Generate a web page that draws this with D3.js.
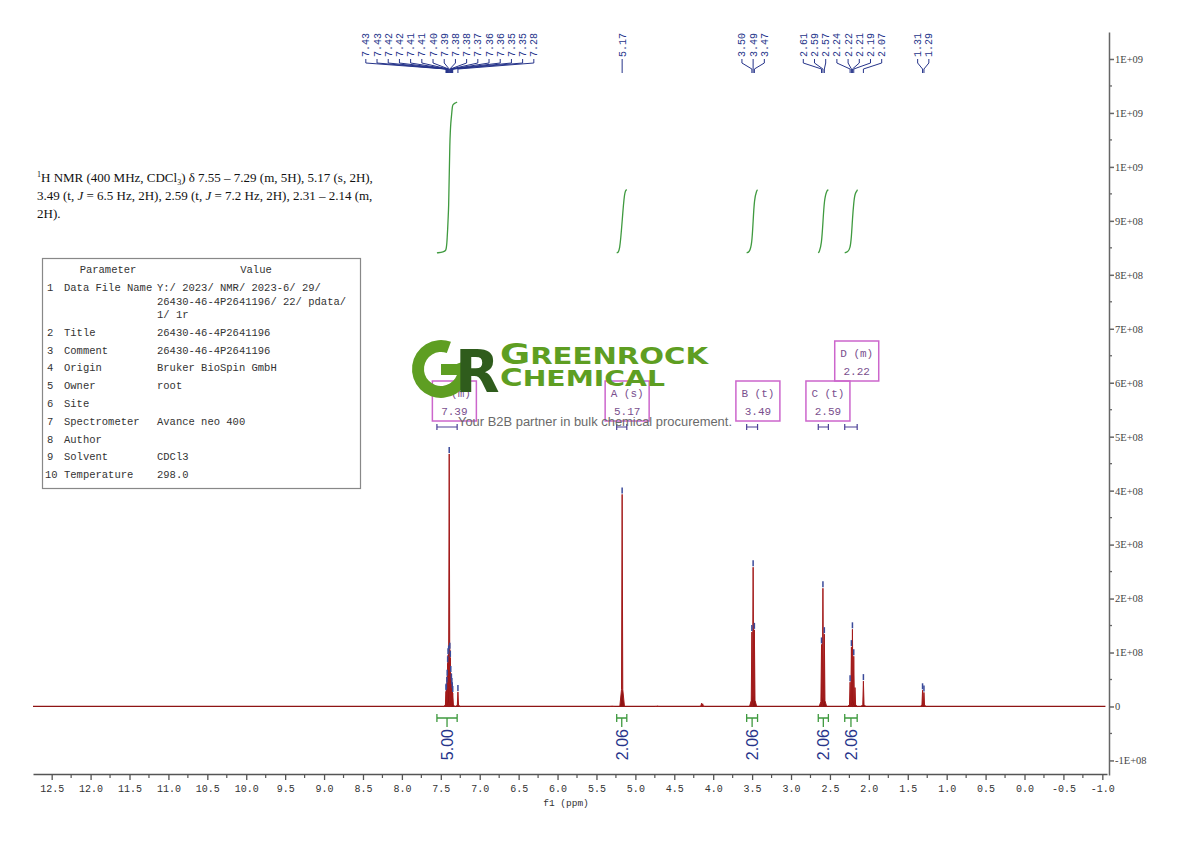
<!DOCTYPE html>
<html>
<head>
<meta charset="utf-8">
<script src="https://cdn.jsdelivr.net/npm/d3@7/dist/d3.min.js"></script>
<style>
  body { margin: 0; background: #fff; }
</style>
</head>
<body>
<svg id="chart" width="1190" height="841"></svg>
<script>
// spectrum peaks (ppm, intensity in units of 1e8)
var specPpm = [7.433, 7.428, 7.422, 7.418, 7.412, 7.407, 7.399, 7.392, 7.384, 7.378, 7.372, 7.364, 7.358, 7.353, 7.347, 7.280,
               5.300, 5.170, 4.720, 4.150, 4.135,
               3.503, 3.487, 3.471,
               2.608, 2.590, 2.572,
               2.241, 2.224, 2.211, 2.194, 2.178, 2.070,
               1.310, 1.292];
var specInt = [0.28, 0.30, 0.42, 0.55, 0.80, 0.95, 1.00, 4.68, 1.05, 0.90, 0.62, 0.48, 0.40, 0.32, 0.25, 0.27,
               0.01, 3.93, 0.01, 0.06, 0.05,
               1.38, 2.58, 1.42,
               1.15, 2.19, 1.34,
               0.45, 1.10, 1.43, 0.93, 0.35, 0.47,
               0.30, 0.26];

// picked peaks shown at the top
var pickPpm = [7.433, 7.428, 7.422, 7.418, 7.412, 7.407, 7.399, 7.392, 7.384, 7.378, 7.372, 7.364, 7.358, 7.353, 7.347, 7.280,
               5.170, 3.503, 3.487, 3.471, 2.608, 2.590, 2.572, 2.241, 2.224, 2.211, 2.194, 2.070, 1.310, 1.292];

// integrals
var intFrom = [7.55, 5.24, 3.57, 2.65, 2.31];
var intTo   = [7.29, 5.11, 3.43, 2.52, 2.15];
var intVal  = [5.00, 2.06, 2.06, 2.06, 2.06];

// multiplets
var mName  = ["E", "A", "B", "C", "D"];
var mType  = ["m", "s", "t", "t", "m"];
var mShift = [7.39, 5.17, 3.49, 2.59, 2.22];

// axis ticks
var xTicks = [12.5, 12.0, 11.5, 11.0, 10.5, 10.0, 9.5, 9.0, 8.5, 8.0, 7.5, 7.0, 6.5, 6.0, 5.5, 5.0,
              4.5, 4.0, 3.5, 3.0, 2.5, 2.0, 1.5, 1.0, 0.5, 0.0, -0.5, -1.0];
var yTicks = [-1e8, 0, 1e8, 2e8, 3e8, 4e8, 5e8, 6e8, 7e8, 8e8, 9e8, 1.0e9, 1.1e9, 1.2e9];

var nmrLines = [
  "H NMR (400 MHz, CDCl", ") \u03b4 7.55 \u2013 7.29 (m, 5H), 5.17 (s, 2H),",
  "3.49 (t, ", " = 6.5 Hz, 2H), 2.59 (t, ", " = 7.2 Hz, 2H), 2.31 \u2013 2.14 (m,",
  "2H)."
];
var paramNames  = ["Data File Name", "Title", "Comment", "Origin", "Owner", "Site", "Spectrometer", "Author", "Solvent", "Temperature"];
var paramValues = [["Y:/ 2023/ NMR/ 2023-6/ 29/", "26430-46-4P2641196/ 22/ pdata/", "1/ 1r"],
                   ["26430-46-4P2641196"], ["26430-46-4P2641196"], ["Bruker BioSpin GmbH"], ["root"], [""],
                   ["Avance neo 400"], [""], ["CDCl3"], ["298.0"]];

var navy = "#26348a", red = "#8e1414", green = "#3f9a3f", magenta = "#cc66cc";
var mono = "'Liberation Mono', monospace";

var svg = d3.select("#chart");
svg.append("rect").attr("width", 1190).attr("height", 841).attr("fill", "#fff");

var x = d3.scaleLinear().domain([12.74, -1.06]).range([33, 1107]);
var y = d3.scaleLinear().domain([-1.27e8, 1.25e9]).range([775, 32]);
var yInt = d3.scaleLinear().domain([0, 5]).range([252, 103]);

// ---- axes
function sci(v) {
  if (v === 0) return "0";
  var e = Math.floor(Math.log10(Math.abs(v)) + 1e-9);
  var m = Math.round(v / Math.pow(10, e));
  return m + "E+" + (e < 10 ? "0" : "") + e;
}

var gx = svg.append("g").attr("transform", "translate(0,774)")
  .call(d3.axisBottom(x).tickValues(xTicks).tickSize(6).tickSizeOuter(0)
    .tickFormat(function(d) { return d.toFixed(1); }));
gx.selectAll("text").attr("font-family", mono).attr("font-size", 10).attr("fill", "#333").attr("dy", "0.9em");
gx.selectAll("line, path").attr("stroke", "#555").attr("stroke-width", 1.3);
gx.selectAll(".minor").data(xTicks.map(function(d) { return d - 0.25; }).filter(function(d) { return d > -1.06; }))
  .enter().append("line").attr("class", "minor")
  .attr("x1", function(d) { return x(d); }).attr("x2", function(d) { return x(d); })
  .attr("y1", 0).attr("y2", 4).attr("stroke", "#555").attr("stroke-width", 1.2);
svg.append("text").attr("x", 566).attr("y", 806).attr("text-anchor", "middle")
  .attr("font-family", mono).attr("font-size", 9.5).attr("fill", "#333").text("f1 (ppm)");

var gy = svg.append("g").attr("transform", "translate(1109,0)")
  .call(d3.axisRight(y).tickValues(yTicks).tickSize(5).tickSizeOuter(0).tickFormat(sci));
gy.attr("font-family", "'Liberation Serif', serif");
gy.selectAll("text").attr("font-family", "'Liberation Serif', serif").attr("font-size", 10.5).attr("fill", "#444").attr("x", 6);
gy.selectAll("line, path").attr("stroke", "#666").attr("stroke-width", 1.5);
gy.selectAll(".minor").data(yTicks.map(function(d) { return d + 0.5e8; }).filter(function(d) { return d < 1.25e9; }))
  .enter().append("line").attr("class", "minor")
  .attr("y1", function(d) { return y(d); }).attr("y2", function(d) { return y(d); })
  .attr("x1", 0).attr("x2", 3).attr("stroke", "#666").attr("stroke-width", 1.3);

// ---- spectrum
var peaks = specPpm.map(function(p, i) { return {ppm: p, h: specInt[i] * 1e8}; });
svg.append("line")
  .attr("x1", x(12.74)).attr("x2", x(-1.04)).attr("y1", y(0)).attr("y2", y(0))
  .attr("stroke", red).attr("stroke-width", 1.2);
var peakLine = d3.line().x(function(d) { return x(d[0]); }).y(function(d) { return y(d[1]); });
svg.append("g").selectAll("path").data(peaks).enter().append("path")
  .attr("d", function(d) {
    return peakLine([[d.ppm + 0.03, 0], [d.ppm + 0.008, d.h * 0.08], [d.ppm, d.h],
                     [d.ppm - 0.008, d.h * 0.08], [d.ppm - 0.03, 0]]);
  })
  .attr("fill", red).attr("stroke", "#a31a1a").attr("stroke-width", 1);

// peak pick markers
var picks = pickPpm.map(function(p) {
  var pk = peaks.filter(function(d) { return d.ppm === p; })[0];
  return {ppm: p, h: pk.h, px: x(p)};
});
svg.append("g").selectAll("line").data(picks).enter().append("line")
  .attr("x1", function(d) { return d.px; }).attr("x2", function(d) { return d.px; })
  .attr("y1", function(d) { return y(d.h) - 7; }).attr("y2", function(d) { return y(d.h) - 1; })
  .attr("stroke", "#3a4a9a").attr("stroke-width", 1.5);

// ---- peak labels at top
var gap = 11.2;
var sorted = picks.slice().sort(function(a, b) { return a.px - b.px; });
var clusters = sorted.map(function(l) { return {items: [l], center: l.px}; });
var merged = true;
while (merged) {
  merged = false;
  for (var i = 0; i < clusters.length - 1; i++) {
    var a = clusters[i], b = clusters[i + 1];
    var aRight = a.center + (a.items.length - 1) * gap / 2;
    var bLeft = b.center - (b.items.length - 1) * gap / 2;
    if (bLeft - aRight < gap) {
      var items = a.items.concat(b.items);
      clusters.splice(i, 2, {items: items, center: d3.mean(items, function(d) { return d.px; })});
      merged = true;
      break;
    }
  }
}
clusters.forEach(function(c) {
  c.items.forEach(function(l, k) { l.lx = c.center + (k - (c.items.length - 1) / 2) * gap; });
});

var gl = svg.append("g");
gl.selectAll("text").data(sorted).enter().append("text")
  .attr("transform", function(d) { return "translate(" + d.lx + ",57) rotate(-90)"; })
  .attr("dy", "0.35em").attr("font-family", mono).attr("font-size", 10).attr("fill", navy)
  .text(function(d) { return d.ppm.toFixed(2); });
gl.selectAll("path").data(sorted).enter().append("path")
  .attr("d", function(d) {
    return "M" + d.lx + ",59V63L" + d.px + ",69V73";
  })
  .attr("fill", "none").attr("stroke", navy).attr("stroke-width", 1);

// ---- integrals
var ints = intFrom.map(function(f, i) { return {from: f, to: intTo[i], val: intVal[i]}; });
var curve = d3.line().x(function(d) { return x(d[0]); }).y(function(d) { return yInt(d[1]); }).curve(d3.curveBasis);
svg.append("g").selectAll("path").data(ints).enter().append("path")
  .attr("d", function(d) {
    var inside = peaks.filter(function(p) { return p.ppm <= d.from && p.ppm >= d.to; });
    var total = d3.sum(inside, function(p) { return p.h; });
    var pts = [[d.from, -0.03], [inside[0].ppm + 0.03, 0]];
    var cum = 0;
    inside.forEach(function(p) {
      pts.push([p.ppm, (cum + p.h / 2) / total * d.val]);
      cum += p.h;
    });
    pts.push([inside[inside.length - 1].ppm - 0.03, d.val]);
    pts.push([d.to, d.val + 0.03]);
    return curve(pts);
  })
  .attr("fill", "none").attr("stroke", green).attr("stroke-width", 1.3);

var gi = svg.append("g").selectAll("g").data(ints).enter().append("g");
gi.append("path")
  .attr("d", function(d) {
    var x1 = x(d.from), x2 = x(d.to), xm = (x1 + x2) / 2;
    return "M" + x1 + ",714V722M" + x1 + ",718H" + x2 + "M" + x2 + ",714V722M" + xm + ",718V727";
  })
  .attr("fill", "none").attr("stroke", green).attr("stroke-width", 1.3);
gi.append("text")
  .attr("transform", function(d) { return "translate(" + ((x(d.from) + x(d.to)) / 2) + ",729) rotate(-90)"; })
  .attr("dy", "0.36em").attr("text-anchor", "end")
  .attr("font-family", "'Liberation Sans', Arial, sans-serif").attr("font-size", 16).attr("fill", navy)
  .text(function(d) { return d3.format(".2f")(d.val); });

// ---- multiplet boxes
var mult = mName.map(function(n, i) {
  return {name: n, type: mType[i], shift: mShift[i], from: intFrom[i], to: intTo[i], cx: x(mShift[i])};
}).sort(function(a, b) { return a.cx - b.cx; });
var placed = [];
mult.forEach(function(m) {
  m.left = m.cx - 17;
  m.level = 0;
  while (placed.some(function(p) { return p.level === m.level && p.left + 44 > m.left; })) m.level++;
  placed.push(m);
});
var gm = svg.append("g").selectAll("g").data(mult).enter().append("g");
gm.append("rect")
  .attr("x", function(d) { return d.left; }).attr("y", function(d) { return 381 - d.level * 40; })
  .attr("width", 44).attr("height", 40)
  .attr("fill", "none").attr("stroke", magenta).attr("stroke-width", 1.5);
gm.append("text")
  .attr("x", function(d) { return d.left + 22; }).attr("y", function(d) { return 397 - d.level * 40; })
  .attr("text-anchor", "middle").attr("font-family", mono).attr("font-size", 11).attr("fill", "#7a4f8e")
  .text(function(d) { return d.name + " (" + d.type + ")"; });
gm.append("text")
  .attr("x", function(d) { return d.left + 22; }).attr("y", function(d) { return 415 - d.level * 40; })
  .attr("text-anchor", "middle").attr("font-family", mono).attr("font-size", 11).attr("fill", "#7a4f8e")
  .text(function(d) { return d.shift.toFixed(2); });
gm.append("path")
  .attr("d", function(d) {
    var x1 = x(d.from), x2 = x(d.to);
    return "M" + x1 + ",424V430M" + x1 + ",427H" + x2 + "M" + x2 + ",424V430";
  })
  .attr("fill", "none").attr("stroke", "#4a3f96").attr("stroke-width", 1.2);

// ---- description text
var serif = "'Liberation Serif', 'Times New Roman', serif";
var t1 = svg.append("text").attr("x", 37).attr("y", 182).attr("font-family", serif).attr("font-size", 13).attr("fill", "#111");
t1.append("tspan").attr("font-size", 8).attr("dy", -5).text("1");
t1.append("tspan").attr("dy", 5).text(nmrLines[0]);
t1.append("tspan").attr("font-size", 8).attr("dy", 3).text("3");
t1.append("tspan").attr("dy", -3).text(nmrLines[1]);
var t2 = svg.append("text").attr("x", 37).attr("y", 200).attr("font-family", serif).attr("font-size", 13).attr("fill", "#111");
t2.append("tspan").text(nmrLines[2]);
t2.append("tspan").attr("font-style", "italic").text("J");
t2.append("tspan").text(nmrLines[3]);
t2.append("tspan").attr("font-style", "italic").text("J");
t2.append("tspan").text(nmrLines[4]);
svg.append("text").attr("x", 37).attr("y", 218).attr("font-family", serif).attr("font-size", 13).attr("fill", "#111")
  .text(nmrLines[5]);

// ---- parameter table
svg.append("rect").attr("x", 42.5).attr("y", 258.5).attr("width", 318).attr("height", 230)
  .attr("fill", "#fff").attr("stroke", "#888").attr("stroke-width", 1.2);
var tt = svg.append("g").attr("font-family", mono).attr("font-size", 10.5).attr("fill", "#333");
tt.append("text").attr("x", 108).attr("y", 273).attr("text-anchor", "middle").text("Parameter");
tt.append("text").attr("x", 256).attr("y", 273).attr("text-anchor", "middle").text("Value");
var rowY = 291;
paramNames.forEach(function(n, i) {
  tt.append("text").attr("x", i < 9 ? 47 : 45).attr("y", rowY).text(i + 1);
  tt.append("text").attr("x", 64).attr("y", rowY).text(n);
  paramValues[i].forEach(function(v, k) {
    tt.append("text").attr("x", 157).attr("y", rowY + k * 13.5).text(v);
  });
  rowY += 17.8 + (paramValues[i].length - 1) * 13.5;
});

// ---- logo watermark
var logo = svg.append("g");
logo.append("path")
  .attr("transform", "translate(441,369)")
  .attr("d", d3.arc().innerRadius(17).outerRadius(29).startAngle(1.25).endAngle(2 * Math.PI + 0.35)())
  .attr("fill", "#5e9e22");
logo.append("rect").attr("x", 441).attr("y", 364).attr("width", 26).attr("height", 11).attr("fill", "#5e9e22");
logo.append("text").attr("x", 455).attr("y", 392)
  .attr("font-family", "'DejaVu Sans', sans-serif").attr("font-weight", "bold").attr("font-size", 58)
  .attr("fill", "#2f5c1c").text("R");
var g1 = logo.append("text").attr("x", 500).attr("y", 364).attr("textLength", 208).attr("lengthAdjust", "spacingAndGlyphs")
  .attr("font-family", "'DejaVu Sans', sans-serif").attr("font-weight", "bold").attr("fill", "#5e9e22");
g1.append("tspan").attr("font-size", 29).text("G");
g1.append("tspan").attr("font-size", 23).text("REENROCK");
var g2 = logo.append("text").attr("x", 500).attr("y", 386).attr("textLength", 165).attr("lengthAdjust", "spacingAndGlyphs")
  .attr("font-family", "'DejaVu Sans', sans-serif").attr("font-weight", "bold").attr("fill", "#5e9e22");
g2.append("tspan").attr("font-size", 24).text("C");
g2.append("tspan").attr("font-size", 22).text("HEMICAL");
logo.append("text").attr("x", 458).attr("y", 426).attr("textLength", 274).attr("lengthAdjust", "spacingAndGlyphs")
  .attr("font-family", "'Liberation Sans', Arial, sans-serif").attr("font-size", 12.5).attr("fill", "#6a6a6a")
  .text("Your B2B partner in bulk chemical procurement.");
</script>
</body>
</html>
